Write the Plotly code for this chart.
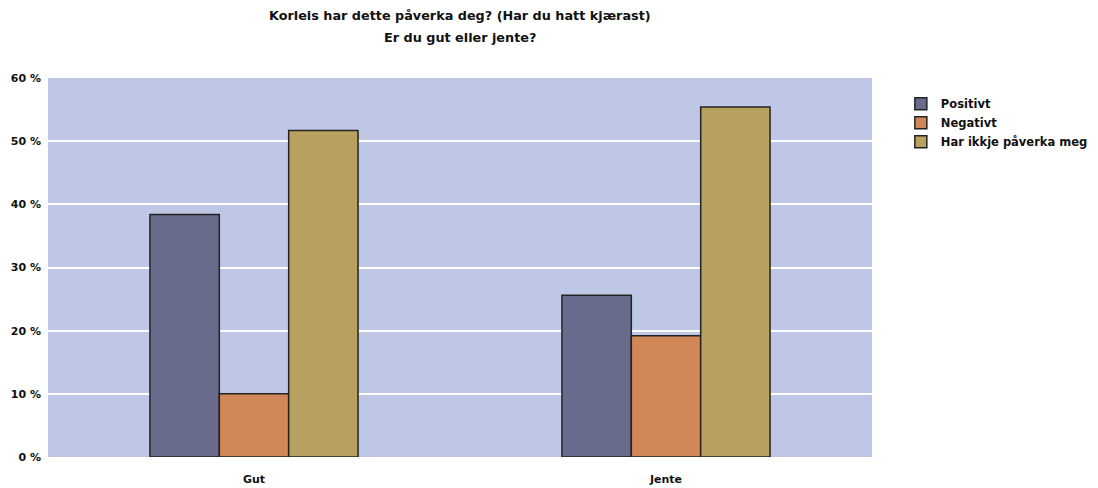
import plotly.graph_objects as go

categories = ["Gut", "Jente"]
series_names = ["Positivt", "Negativt", "Har ikkje påverka meg"]
positivt = [38.4, 25.6]
negativt = [10.0, 19.2]
har_ikkje = [51.7, 55.4]
colors = ["#696B8C", "#D08657", "#B8A05E"]
y_ticks = [0, 10, 20, 30, 40, 50, 60]
title_lines = ["Korleis har dette påverka deg? (Har du hatt kjærast)", "Er du gut eller jente?"]

fig = go.Figure()
for name, vals, col in zip(series_names, [positivt, negativt, har_ikkje], colors):
    fig.add_trace(go.Bar(
        x=categories, y=vals, name=f"<b>{name}</b>",
        marker=dict(color=col, line=dict(color="#222222", width=1.5)),
    ))

font = "DejaVu Sans, Verdana, sans-serif"
fig.update_layout(
    width=1098, height=488,
    margin=dict(l=48, r=226, t=78, b=31, autoexpand=False),
    paper_bgcolor="white",
    plot_bgcolor="#BEC8E6",
    barmode="group",
    bargap=0.495,
    bargroupgap=0,
    legend=dict(
        x=1.035, xanchor="left", y=0.97, yanchor="top",
        font=dict(family=font, size=11.5, color="#111111"),
        bgcolor="rgba(0,0,0,0)", tracegroupgap=0, itemwidth=30,
    ),
    font=dict(family=font),
    annotations=[
        dict(text=f"<b>{t}</b>", x=0.5, xref="paper", xanchor="center",
             y=yy, yref="paper", yanchor="middle", showarrow=False,
             font=dict(family=font, size=12.8, color="#111111"))
        for t, yy in zip(title_lines, [1.166, 1.108])
    ],
)
fig.update_yaxes(
    range=[0, 60], tickvals=y_ticks, ticktext=[f"<b>{v} %</b>" for v in y_ticks],
    showgrid=True, gridcolor="white", gridwidth=1.5, zeroline=False, automargin=False,
    tickfont=dict(family=font, size=11, color="#111111"), ticks="", ticklabelstandoff=6,
)
fig.update_xaxes(
    tickvals=categories, ticktext=[f"<b>{c}</b>" for c in categories], automargin=False,
    tickfont=dict(family=font, size=11, color="#111111"), ticks="", ticklabelstandoff=14,
)
fig.write_html("out.html")
